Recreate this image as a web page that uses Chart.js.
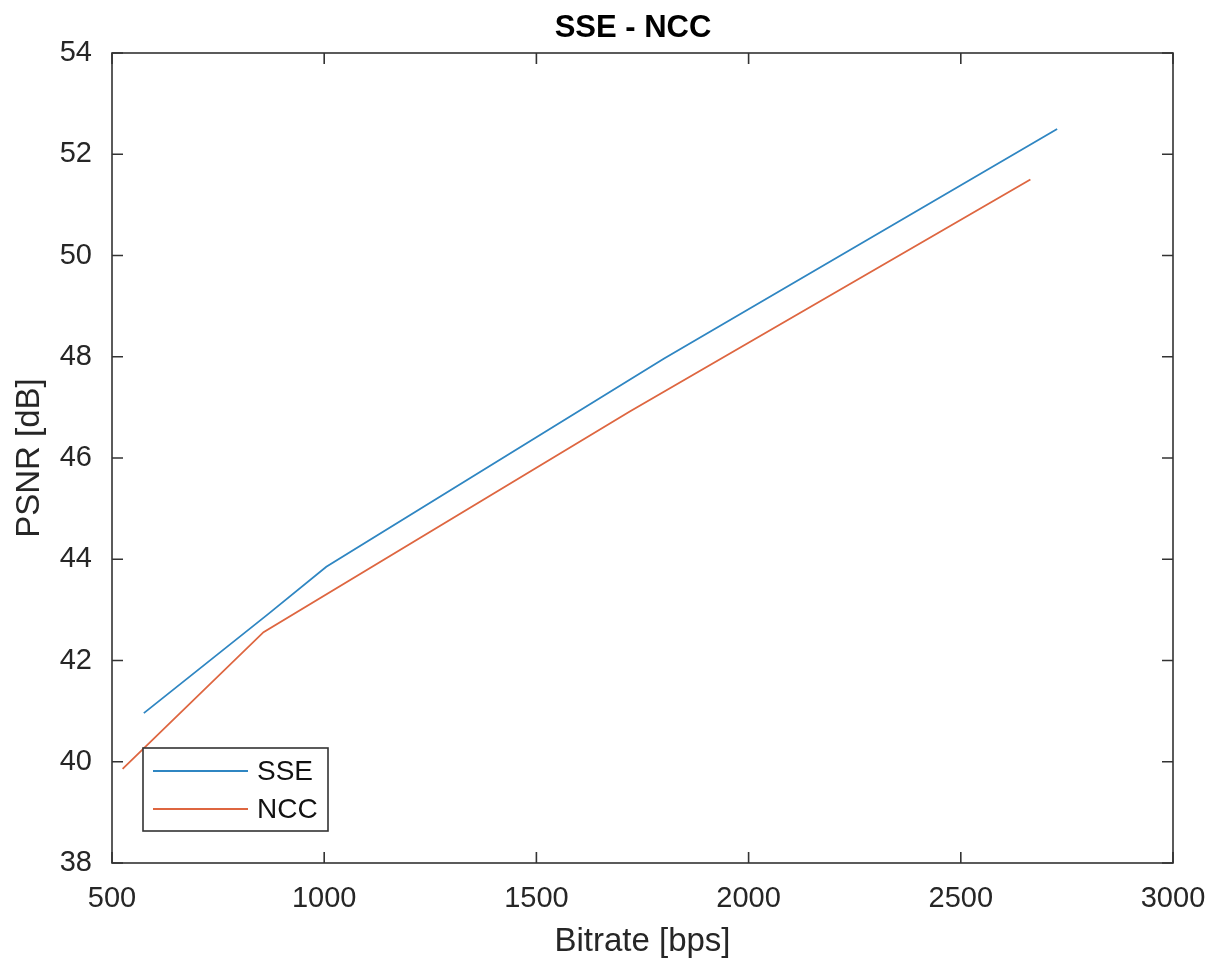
<!DOCTYPE html>
<html>
<head>
<meta charset="utf-8">
<script src="https://cdn.jsdelivr.net/npm/chart.js@4/dist/chart.umd.min.js"></script>
<style>
  html, body { margin: 0; padding: 0; background: #ffffff; }
  #wrap { width: 1218px; height: 967px; }
</style>
</head>
<body>
<div id="wrap"><canvas id="c" width="1218" height="967"></canvas></div>
<script>
// ---- data ----
const chartTitle = "SSE - NCC";
const xTitle = "Bitrate [bps]";
const yTitle = "PSNR [dB]";
const seriesNames = ["SSE", "NCC"];
const sseBitrate = [575, 870, 1005, 1800, 2727];
const ssePsnr    = [40.96, 42.93, 43.85, 47.96, 52.50];
const nccBitrate = [525, 857, 1720, 2664];
const nccPsnr    = [39.86, 42.56, 46.92, 51.50];
const xTicks = [500, 1000, 1500, 2000, 2500, 3000];
const yTicks = [38, 40, 42, 44, 46, 48, 50, 52, 54];

const FONT = "'Liberation Sans', Arial, Helvetica, sans-serif";
const AXIS_COLOR = "#333333";
const TEXT_COLOR = "#262626";
const BLUE = "#2f86c2";
const ORANGE = "#de6640";

function toPoints(xs, ys) { return xs.map((x, i) => ({ x: x, y: ys[i] })); }

const boxPlugin = {
  id: 'matlabBox',
  afterDatasetsDraw(chart) {
    const ctx = chart.ctx;
    const a = chart.chartArea;
    const xs = chart.scales.x, ys = chart.scales.y;
    ctx.save();
    ctx.strokeStyle = AXIS_COLOR;
    ctx.lineWidth = 1.6;
    ctx.strokeRect(a.left, a.top, a.right - a.left, a.bottom - a.top);
    const tl = 11;
    ctx.beginPath();
    xTicks.forEach(v => {
      const px = xs.getPixelForValue(v);
      ctx.moveTo(px, a.bottom); ctx.lineTo(px, a.bottom - tl);
      ctx.moveTo(px, a.top); ctx.lineTo(px, a.top + tl);
    });
    yTicks.forEach(v => {
      const py = ys.getPixelForValue(v);
      ctx.moveTo(a.left, py); ctx.lineTo(a.left + tl, py);
      ctx.moveTo(a.right, py); ctx.lineTo(a.right - tl, py);
    });
    ctx.stroke();

    // legend (inside axes, lower-left)
    const lx = a.left + 31, ly = a.bottom - 115, lw = 185, lh = 83;
    ctx.fillStyle = "#ffffff";
    ctx.fillRect(lx, ly, lw, lh);
    ctx.lineWidth = 1.6;
    ctx.strokeStyle = AXIS_COLOR;
    ctx.strokeRect(lx, ly, lw, lh);
    ctx.font = "28px " + FONT;
    ctx.textBaseline = "middle";
    ctx.textAlign = "left";
    chart.data.datasets.forEach((ds, i) => {
      const yy = ly + 23 + i * 38;
      ctx.strokeStyle = ds.borderColor;
      ctx.lineWidth = 1.8;
      ctx.beginPath();
      ctx.moveTo(lx + 10, yy); ctx.lineTo(lx + 105, yy);
      ctx.stroke();
      ctx.fillStyle = "#111111";
      ctx.fillText(ds.label, lx + 114, yy + 1);
    });

    // title
    ctx.fillStyle = "#000000";
    ctx.font = "bold 31px " + FONT;
    ctx.textAlign = "center";
    ctx.textBaseline = "alphabetic";
    ctx.fillText(chartTitle, 633, 37);
    ctx.restore();
  }
};

new Chart(document.getElementById('c'), {
  type: 'line',
  data: {
    datasets: [
      { label: seriesNames[0], data: toPoints(sseBitrate, ssePsnr), borderColor: BLUE, backgroundColor: BLUE,
        borderWidth: 1.8, pointRadius: 0, tension: 0, fill: false },
      { label: seriesNames[1], data: toPoints(nccBitrate, nccPsnr), borderColor: ORANGE, backgroundColor: ORANGE,
        borderWidth: 1.8, pointRadius: 0, tension: 0, fill: false }
    ]
  },
  options: {
    responsive: false,
    animation: false,
    devicePixelRatio: 1,
    layout: { padding: { top: 53, right: 45, left: 0, bottom: 0 } },
    plugins: {
      legend: { display: false },
      title: { display: false },
      tooltip: { enabled: false }
    },
    scales: {
      x: {
        type: 'linear',
        min: 500, max: 3000,
        afterFit(scale) { scale.height = 104; scale.paddingLeft = 0; scale.paddingRight = 0; },
        afterBuildTicks(scale) { scale.ticks = xTicks.map(v => ({ value: v })); },
        grid: { display: false, drawTicks: false },
        border: { display: false },
        ticks: { font: { family: FONT, size: 29 }, color: TEXT_COLOR, padding: 19, maxRotation: 0, autoSkip: false,
                 callback: v => String(v) },
        title: { display: true, text: xTitle, font: { family: FONT, size: 33 }, color: TEXT_COLOR, padding: { top: 0, bottom: 5 } }
      },
      y: {
        type: 'linear',
        min: 38, max: 54,
        afterFit(scale) { scale.width = 112; scale.paddingTop = 0; scale.paddingBottom = 0; },
        afterBuildTicks(scale) { scale.ticks = yTicks.map(v => ({ value: v })); },
        grid: { display: false, drawTicks: false },
        border: { display: false },
        ticks: { font: { family: FONT, size: 29 }, color: TEXT_COLOR, padding: 20, autoSkip: false,
                 callback: v => String(v) },
        title: { display: true, text: yTitle, font: { family: FONT, size: 33 }, color: TEXT_COLOR, padding: { top: 10, bottom: 0 } }
      }
    }
  },
  plugins: [boxPlugin]
});
</script>
</body>
</html>
